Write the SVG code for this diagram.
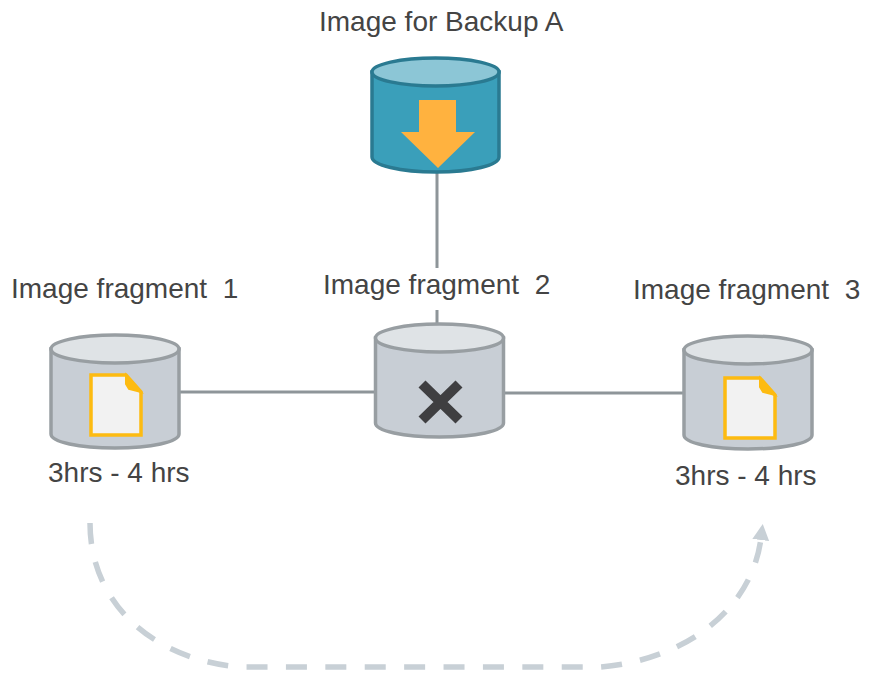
<svg xmlns="http://www.w3.org/2000/svg" width="875" height="673" viewBox="0 0 875 673">
<style>
text{font-family:"Liberation Sans",Arial,sans-serif;font-size:28px;fill:#444;white-space:pre}
.gb{fill:#c8ced5;stroke:#989ea2;stroke-width:3.500}
.gt{fill:#dfe3e6;stroke:#989ea2;stroke-width:3.500}
.line{fill:none;stroke:#8e9599;stroke-width:3}
.doc{fill:#f2f2f2;stroke:#fdbb11;stroke-width:3.500;stroke-linejoin:miter}
</style>
<defs>
<marker id="ah" markerUnits="userSpaceOnUse" markerWidth="20" markerHeight="20" refX="2" refY="8.500" orient="auto"><path d="M0 0L16 8.500L0 17Z" fill="#c8d0d6"/></marker>
<g id="cyl"><path class="gb" d="M0 0V85C0 93 28 99 64 99S128 93 128 85V0Z"/><ellipse class="gt" cx="64" cy="0" rx="64" ry="14"/></g>
<g id="doc"><path class="doc" d="M0 0H35L50 17V60H0Z"/><path d="M35 0L50 17L38 14L35 9Z" fill="#fdbb11" stroke="#fdbb11" stroke-width="2"/></g>
</defs>
<g id="connectors">
<path class="line" d="M437 170V268M437 310V326M179 392H375M503 393H684"/>
<path fill="none" stroke="#c8d0d6" stroke-width="5.500" stroke-dasharray="21 18.400" d="M90 523C90 605 155 660 240 667H600C685 660 752 610 761 538" marker-end="url(#ah)"/>
</g>
<g id="node-backup">
<path d="M372 72V157C372 165 400 172 436 172S499 165 499 157V72Z" fill="#3a9fba" stroke="#2a7a91" stroke-width="3.500"/>
<ellipse cx="435.500" cy="72" rx="63.500" ry="14" fill="#8cc6d6" stroke="#2a7a91" stroke-width="3.500"/>
<path d="M419 100H456V132H475L438 168L401 132H419Z" fill="#ffb23f"/>
<text x="319" y="31">Image for Backup A</text>
</g>
<g id="node-fragment-1">
<use href="#cyl" x="51" y="349"/>
<use href="#doc" x="91" y="375"/>
<text x="11" y="298">Image fragment  1</text>
<text x="48" y="482">3hrs - 4 hrs</text>
</g>
<g id="node-fragment-2">
<use href="#cyl" x="375.500" y="338"/>
<path d="M422 384L459 420M459 384L422 420" fill="none" stroke="#3f3f41" stroke-width="10"/>
<text x="323" y="294">Image fragment  2</text>
</g>
<g id="node-fragment-3">
<use href="#cyl" x="684" y="350"/>
<use href="#doc" x="725" y="378"/>
<text x="633" y="299">Image fragment  3</text>
<text x="675" y="485">3hrs - 4 hrs</text>
</g>
</svg>
